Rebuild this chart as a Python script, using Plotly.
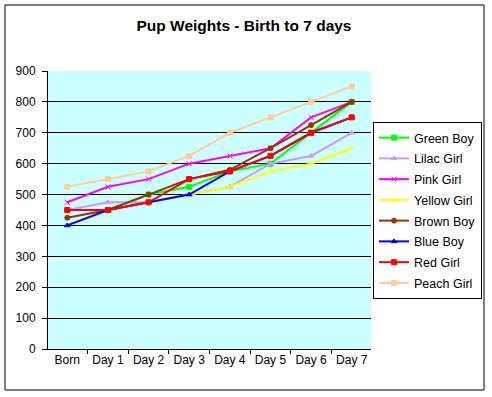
import plotly.graph_objects as go

days = ["Born", "Day 1", "Day 2", "Day 3", "Day 4", "Day 5", "Day 6", "Day 7"]

green_boy = [450, 450, 500, 525, 575, 600, 700, 800]
lilac_girl = [450, 475, 475, 500, 525, 600, 625, 700]
pink_girl = [475, 525, 550, 600, 625, 650, 750, 800]
yellow_girl = [450, 450, 475, 500, 525, 575, 600, 650]
brown_boy = [425, 450, 500, 550, 580, 650, 725, 800]
blue_boy = [400, 450, 475, 500, 575, 625, 700, 750]
red_girl = [450, 450, 475, 550, 575, 625, 700, 750]
peach_girl = [525, 550, 575, 625, 700, 750, 800, 850]

y_ticks = [0, 100, 200, 300, 400, 500, 600, 700, 800, 900]

series = [
    ("Green Boy", green_boy, "#00FF00", "square"),
    ("Lilac Girl", lilac_girl, "#CC99FF", "triangle-up"),
    ("Pink Girl", pink_girl, "#FF00FF", "x-thin"),
    ("Yellow Girl", yellow_girl, "#FFFF00", "x-thin"),
    ("Brown Boy", brown_boy, "#993300", "circle"),
    ("Blue Boy", blue_boy, "#0000FF", "triangle-up"),
    ("Red Girl", red_girl, "#FF0000", "square"),
    ("Peach Girl", peach_girl, "#FFCC99", "square"),
]

FONT = "Liberation Sans, Arial, sans-serif"

fig = go.Figure()
for i, (name, vals, color, sym) in enumerate(series):
    fig.add_trace(go.Scatter(
        x=days, y=vals, name=name, mode="lines+markers",
        line=dict(color=color, width=2),
        marker=dict(color=color, symbol=sym, size=5, line=dict(color=color, width=1)),
        legendgroup=f"g{i}",
    ))

W, H = 492, 397
L, R, T, B = 48, 371, 71, 349
pw, ph = R - L, B - T

fig.update_layout(
    width=W, height=H,
    margin=dict(l=L, r=W - R, t=T, b=H - B, pad=0, autoexpand=False),
    paper_bgcolor="white",
    plot_bgcolor="#CCFFFF",
    font=dict(family=FONT, size=12, color="black"),
    title=dict(text="<b>Pup Weights - Birth to 7 days</b>", x=244 / W, xanchor="center",
               y=1 - 26 / H, yanchor="middle", font=dict(size=15.5, family=FONT)),
    showlegend=True,
    legend=dict(
        x=(373 - L) / pw, xanchor="left",
        y=(B - 122) / ph, yanchor="top",
        bordercolor="black", borderwidth=1, bgcolor="white",
        font=dict(size=12.5, family=FONT),
        tracegroupgap=1.5,
        itemwidth=30,
    ),
    xaxis=dict(
        type="category", showgrid=False, showline=True, linecolor="black", linewidth=1,
        ticks="outside", tickson="boundaries", ticklen=4, tickcolor="black",
        tickangle=0, tickfont=dict(size=12), zeroline=False, fixedrange=True,
    ),
    yaxis=dict(
        range=[0, 900], tickvals=y_ticks, showgrid=True, gridcolor="black", gridwidth=1,
        showline=True, linecolor="black", linewidth=1, ticks="outside", ticklen=5,
        ticklabelstandoff=4,
        tickcolor="black", tickfont=dict(size=12), zeroline=False, fixedrange=True,
    ),
)

fig.add_shape(type="rect", xref="paper", yref="paper",
              x0=(5 - L) / pw, x1=(484 - L) / pw,
              y0=(B - 390) / ph, y1=(B - 5) / ph,
              line=dict(color="black", width=1), fillcolor="rgba(0,0,0,0)", layer="below")

fig.write_html("out.html", config={"displayModeBar": False},
               post_script="document.body.style.margin='0';document.body.style.overflow='hidden';")
